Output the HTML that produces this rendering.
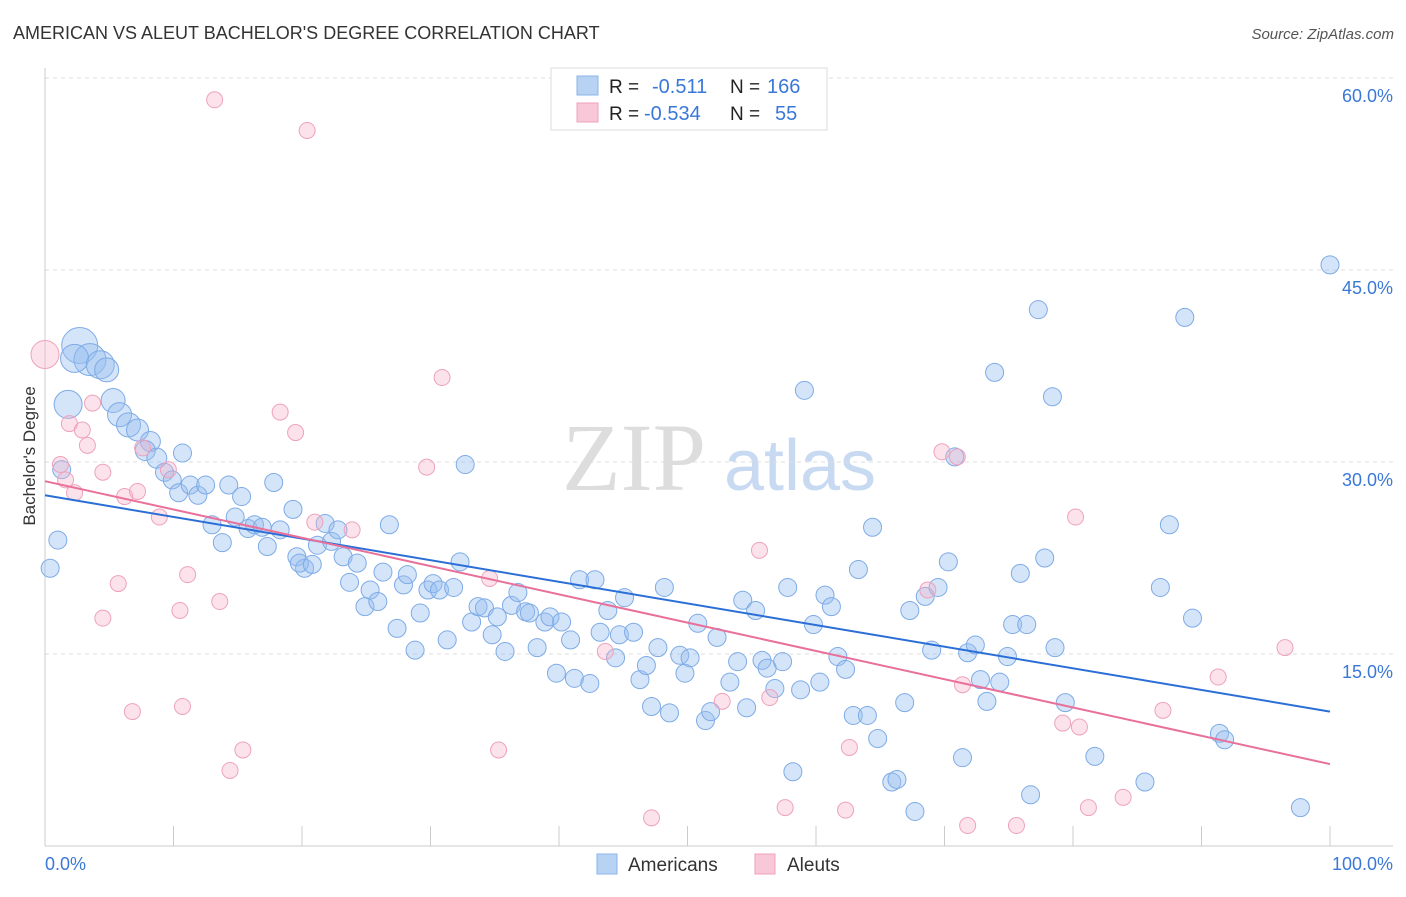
<!DOCTYPE html>
<html><head><meta charset="utf-8">
<style>
body{margin:0;background:#fff;font-family:"Liberation Sans",sans-serif;}
svg text{font-family:"Liberation Sans",sans-serif;}
</style></head>
<body>
<svg id="chart" width="1406" height="892" xmlns="http://www.w3.org/2000/svg">
<text x="13" y="39" font-size="18" fill="#333">AMERICAN VS ALEUT BACHELOR'S DEGREE CORRELATION CHART</text>
<text x="1394" y="39" font-size="15" fill="#555" font-style="italic" text-anchor="end">Source: ZipAtlas.com</text>
<g>
<text x="634" y="490" font-size="96" fill="#ddd" font-family="Liberation Serif" text-anchor="middle" style="font-family:'Liberation Serif',serif">ZIP</text>
<text x="800" y="490" font-size="72" fill="#c8daf2" text-anchor="middle">atlas</text>
</g>
<g id="grid"></g>
<g id="axes"></g>
<g id="pts"></g>
<g id="trend"></g>
<text x="35" y="456" font-size="17" fill="#333" text-anchor="middle" transform="rotate(-90 35 456)">Bachelor's Degree</text>
<g>
<rect x="551" y="68" width="276" height="62" fill="#fff" stroke="#ddd"/>
<rect x="577" y="76" width="21" height="19" fill="#b8d2f4" stroke="#8ab4e8"/>
<rect x="577" y="103" width="21" height="19" fill="#f8c8d8" stroke="#f0a0bb"/>
<text x="609" y="93" font-size="19" fill="#222">R =</text>
<text x="652" y="93" font-size="20" fill="#3a78d8">-0.511</text>
<text x="730" y="93" font-size="19" fill="#222">N =</text>
<text x="767" y="93" font-size="20" fill="#3a78d8">166</text>
<text x="609" y="120" font-size="19" fill="#222">R =</text>
<text x="644" y="120" font-size="20" fill="#3a78d8">-0.534</text>
<text x="730" y="120" font-size="19" fill="#222">N =</text>
<text x="775" y="120" font-size="20" fill="#3a78d8">55</text>
</g>
<g>
<rect x="597" y="854" width="20" height="20" fill="#b8d2f4" stroke="#8ab4e8"/>
<text x="628" y="871" font-size="19" fill="#333">Americans</text>
<rect x="755" y="854" width="20" height="20" fill="#f8c8d8" stroke="#f0a0bb"/>
<text x="787" y="871" font-size="19" fill="#333">Aleuts</text>
</g>
</svg>
<script>
const blueX=[2.7,3.5,2.3,4.3,4.8,1.8,5.3,5.8,6.5,7.2,8.2,7.8,8.7,9.3,9.9,10.4,10.7,11.3,11.9,12.5,13.0,13.8,14.3,14.8,15.3,15.8,16.3,16.9,17.3,17.8,18.3,19.3,19.6,20.2,19.8,20.8,21.2,21.8,22.3,22.8,23.2,23.7,24.3,24.9,25.3,25.9,26.3,26.8,27.4,27.9,28.2,28.8,29.2,29.8,30.2,30.7,31.3,31.8,32.3,32.7,33.2,33.7,34.2,34.8,35.2,35.8,36.3,36.8,37.4,37.7,38.3,38.9,39.3,39.8,40.2,40.9,41.2,41.6,42.4,42.8,43.2,43.8,44.4,44.7,45.1,45.8,46.3,46.8,47.2,47.7,48.2,48.6,49.4,49.8,50.2,50.8,51.4,51.8,52.3,53.3,53.9,54.3,54.6,55.3,55.8,56.2,56.8,57.4,57.8,58.2,58.8,59.1,59.8,60.3,60.7,61.2,61.7,62.3,62.9,63.3,64.0,64.4,64.8,65.9,66.3,66.9,67.3,67.7,68.5,69.0,69.5,70.3,70.8,71.4,71.8,72.4,72.8,73.3,73.9,74.3,74.9,75.3,75.9,76.4,76.7,77.3,77.8,78.4,78.6,79.4,81.7,85.6,86.8,87.5,88.7,89.3,91.4,91.8,97.7,100,1.0,0.4,1.3];
const blueY=[39.1,38.0,38.1,37.6,37.2,34.5,34.8,33.7,32.9,32.5,31.6,30.9,30.3,29.2,28.6,27.6,30.7,28.2,27.4,28.2,25.1,23.7,28.2,25.7,27.3,24.8,25.1,24.9,23.4,28.4,24.7,26.3,22.6,21.7,22.1,22.0,23.5,25.2,23.8,24.7,22.6,20.6,22.1,18.7,20.0,19.1,21.4,25.1,17.0,20.4,21.2,15.3,18.2,20.0,20.5,20.0,16.1,20.2,22.2,29.8,17.5,18.7,18.6,16.5,17.9,15.2,18.8,19.8,18.3,18.2,15.5,17.5,17.9,13.5,17.5,16.1,13.1,20.8,12.7,20.8,16.7,18.4,14.7,16.5,19.4,16.7,13.0,14.1,10.9,15.5,20.2,10.4,14.9,13.5,14.7,17.4,9.8,10.5,16.3,12.8,14.4,19.2,10.8,18.4,14.5,13.9,12.3,14.4,20.2,5.8,12.2,35.6,17.3,12.8,19.6,18.7,14.8,13.8,10.2,21.6,10.2,24.9,8.4,5.0,5.2,11.2,18.4,2.7,19.5,15.3,20.2,22.2,30.4,6.9,15.1,15.7,13.0,11.3,37.0,12.8,14.8,17.3,21.3,17.3,4.0,41.9,22.5,35.1,15.5,11.2,7.0,5.0,20.2,25.1,41.3,17.8,8.8,8.3,3.0,45.4,23.9,21.7,29.4];
const blueSize=[18,16,14,14,12,14,12,12,12,11,10,10,10,9,9,9,9,9,9,9];
const pinkX=[0,1.2,1.6,1.9,2.3,2.9,3.3,3.7,4.5,4.5,5.7,6.2,6.8,7.2,7.6,8.9,9.6,10.5,10.7,11.1,13.2,13.6,14.4,15.4,18.3,19.5,20.4,21.0,23.9,29.7,30.9,34.6,35.3,43.6,47.2,52.7,55.6,56.4,57.6,62.3,62.6,69.8,71.0,68.7,71.4,71.8,75.6,79.2,80.2,80.5,81.2,83.9,87.0,91.3,96.5];
const pinkY=[38.4,29.8,28.6,33.0,27.6,32.5,31.3,34.6,29.2,17.8,20.5,27.3,10.5,27.7,31.1,25.7,29.4,18.4,10.9,21.2,58.3,19.1,5.9,7.5,33.9,32.3,55.9,25.3,24.7,29.6,36.6,20.9,7.5,15.2,2.2,11.3,23.1,11.6,3.0,2.8,7.7,30.8,30.4,20.0,12.6,1.6,1.6,9.6,25.7,9.3,3.0,3.8,10.6,13.2,15.5];
const pinkSize=[14];
const blueTrend=[27.4,10.5];
const pinkTrend=[28.5,6.4];
const yTicks=[15,30,45,60];
const xTickLabels=["0.0%","100.0%"];

const NS="http://www.w3.org/2000/svg";
const X0=45,X1=1330,YB=846,PXY=12.8;
const sx=v=>X0+(X1-X0)*v/100;
const sy=v=>YB-v*PXY;
function mk(tag,attrs,parent){const e=document.createElementNS(NS,tag);for(const k in attrs)e.setAttribute(k,attrs[k]);parent.appendChild(e);return e;}
const grid=document.getElementById('grid'),axes=document.getElementById('axes'),pts=document.getElementById('pts'),trend=document.getElementById('trend');
yTicks.forEach(t=>{
 const l=mk('line',{x1:45,x2:1393,y1:sy(t),y2:sy(t),stroke:'#ddd','stroke-dasharray':'4 4'},grid);
 
 
 const tx=mk('text',{x:1393,y:sy(t)+24,'font-size':18,fill:'#3a78d8','text-anchor':'end'},grid);
 tx.textContent=t.toFixed(1)+'%';
 
 
});
const ax=mk('line',{x1:45,x2:1393,y1:YB,y2:YB,stroke:'#ccc'},axes);


const ay=mk('line',{x1:45,x2:45,y1:68,y2:YB,stroke:'#ccc'},axes);


for(let i=0;i<=10;i++){
 const t=mk('line',{x1:sx(i*10),x2:sx(i*10),y1:826,y2:YB,stroke:'#ccc'},axes);
 
 
}
const xl0=mk('text',{x:45,y:870,'font-size':18,fill:'#3a78d8'},axes);xl0.textContent=xTickLabels[0];


const xl1=mk('text',{x:1393,y:870,'font-size':18,fill:'#3a78d8','text-anchor':'end'},axes);xl1.textContent=xTickLabels[1];



blueX.forEach((v,i)=>{
 const c=mk('circle',{cx:sx(v),cy:sy(blueY[i]),r:blueSize[i]||9,fill:'rgba(150,190,240,0.4)',stroke:'#7eabe6','stroke-width':1},pts);
 
 
});
pinkX.forEach((v,i)=>{
 const c=mk('circle',{cx:sx(v),cy:sy(pinkY[i]),r:pinkSize[i]||8,fill:'rgba(245,175,198,0.35)',stroke:'#eea2bc','stroke-width':1},pts);
 
 
});
const bl=mk('line',{x1:sx(0),y1:sy(blueTrend[0]),x2:sx(100),y2:sy(blueTrend[1]),stroke:'#2b6fd6','stroke-width':2},trend);


const pl=mk('line',{x1:sx(0),y1:sy(pinkTrend[0]),x2:sx(100),y2:sy(pinkTrend[1]),stroke:'#e8709a','stroke-width':2},trend);


</script>
</body></html>
